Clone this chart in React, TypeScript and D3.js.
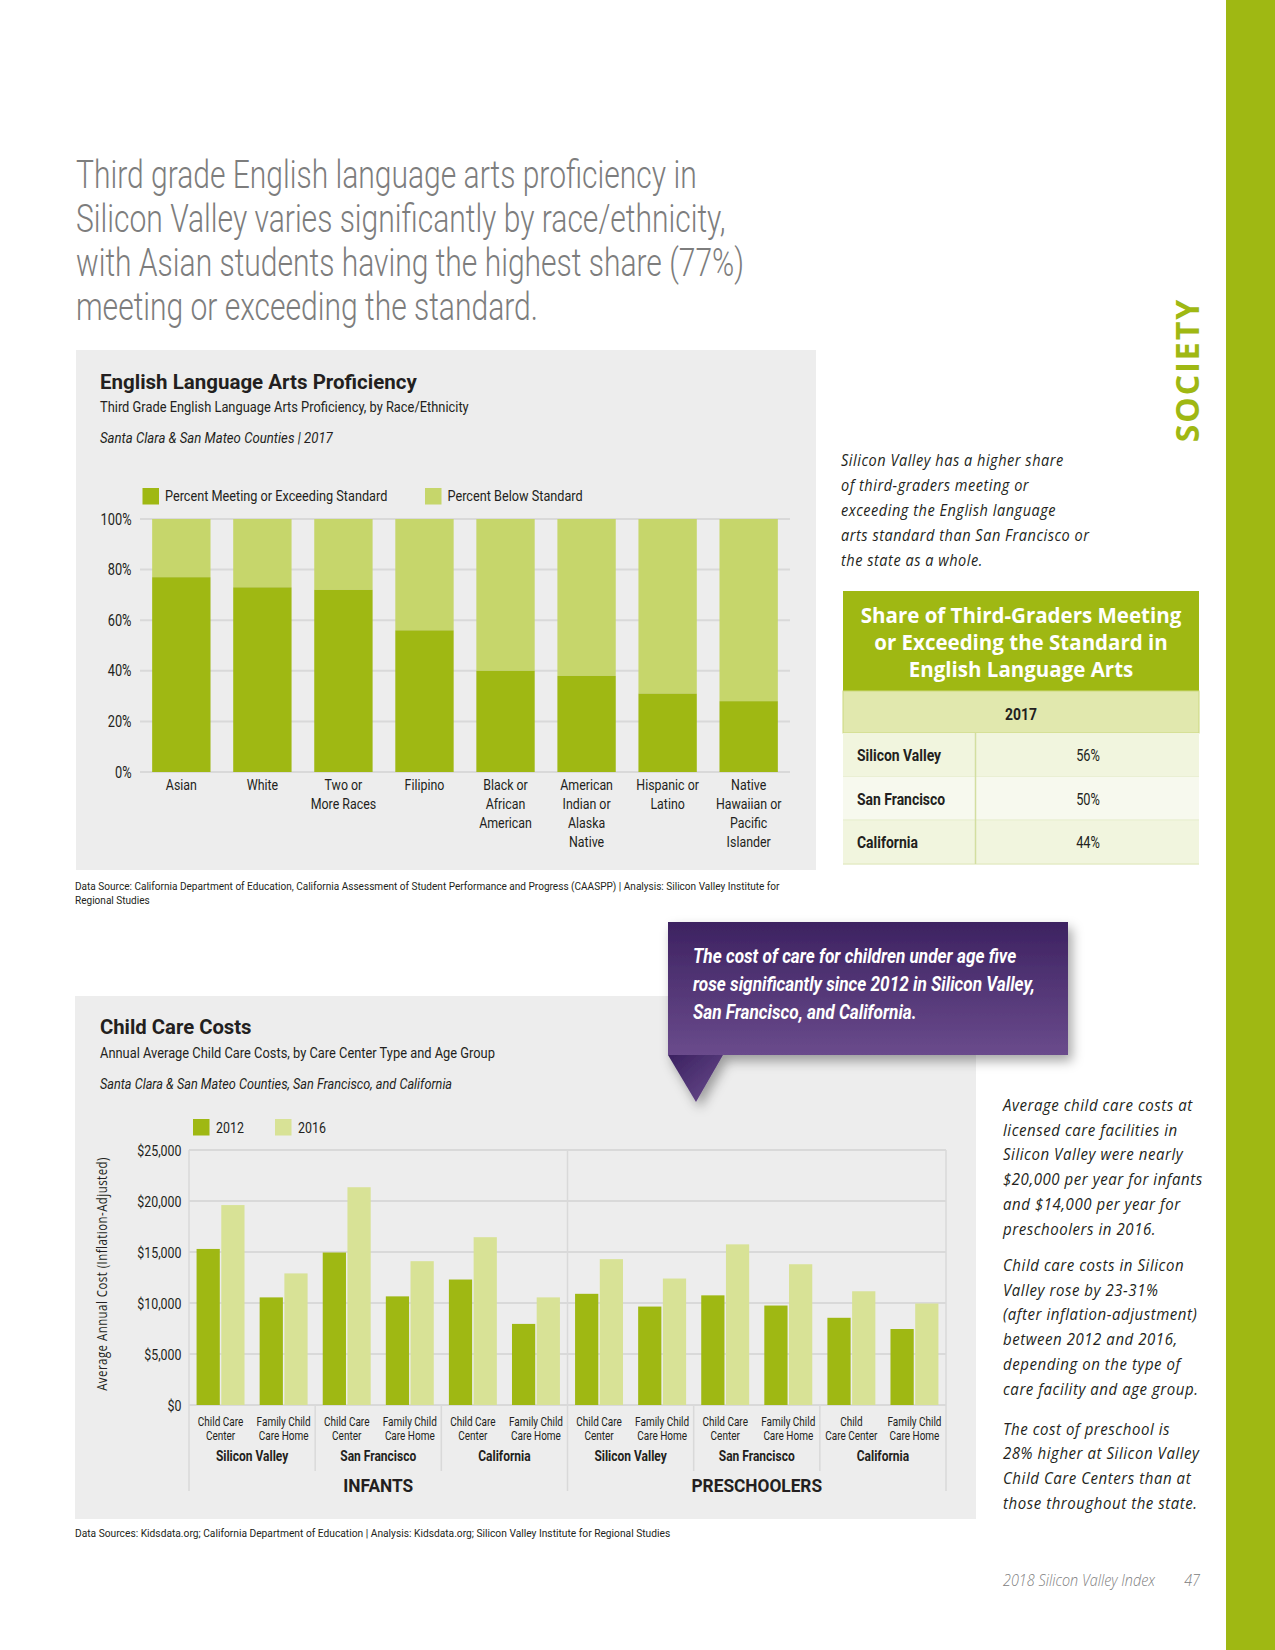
import React, { useRef, useEffect } from 'react'
import * as d3 from 'd3'

// page
const W = 1275
const H = 1650

const headlineLines = [
  'Third grade English language arts proficiency in',
  'Silicon Valley varies significantly by race/ethnicity,',
  'with Asian students having the highest share (77%)',
  'meeting or exceeding the standard.'
]

// chart 1: ELA proficiency
const elaCategories = [
  'Asian',
  'White',
  'Two or\nMore Races',
  'Filipino',
  'Black or\nAfrican\nAmerican',
  'American\nIndian or\nAlaska\nNative',
  'Hispanic or\nLatino',
  'Native\nHawaiian or\nPacific\nIslander'
]
const elaMeeting = [77, 73, 72, 56, 40, 38, 31, 28]
const elaTicks = [0, 20, 40, 60, 80, 100]
const elaLegend = ['Percent Meeting or Exceeding Standard', 'Percent Below Standard']

// sidebar table
const tableRegions = ['Silicon Valley', 'San Francisco', 'California']
const tableValues = [56, 50, 44]
const tableYear = '2017'

// chart 2: child care costs
const careAgeGroups = ['INFANTS', 'PRESCHOOLERS']
const careRegions = ['Silicon Valley', 'San Francisco', 'California']
const careBarLabels = [
  'Child Care\nCenter', 'Family Child\nCare Home',
  'Child Care\nCenter', 'Family Child\nCare Home',
  'Child Care\nCenter', 'Family Child\nCare Home',
  'Child Care\nCenter', 'Family Child\nCare Home',
  'Child Care\nCenter', 'Family Child\nCare Home',
  'Child\nCare Center', 'Family Child\nCare Home'
]
const careYears = ['2012', '2016']
const care2012 = [15300, 10550, 14950, 10650, 12300, 7950, 10900, 9650, 10750, 9750, 8550, 7450]
const care2016 = [19600, 12900, 21350, 14100, 16450, 10550, 14300, 12400, 15750, 13800, 11150, 9950]
const careTicks = [0, 5000, 10000, 15000, 20000, 25000]

const sidebarTop = [
  'Silicon Valley has a higher share',
  'of third-graders meeting or',
  'exceeding the English language',
  'arts standard than San Francisco or',
  'the state as a whole.'
]
const sidebarBottom = [
  ['Average child care costs at', 'licensed care facilities in', 'Silicon Valley were nearly', '$20,000 per year for infants', 'and $14,000 per year for', 'preschoolers in 2016.'],
  ['Child care costs in Silicon', 'Valley rose by 23-31%', '(after inflation-adjustment)', 'between 2012 and 2016,', 'depending on the type of', 'care facility and age group.'],
  ['The cost of preschool is', '28% higher at Silicon Valley', 'Child Care Centers than at', 'those throughout the state.']
]
const calloutLines = [
  'The cost of care for children under age five',
  'rose significantly since 2012 in Silicon Valley,',
  'San Francisco, and California.'
]

const GREEN = '#9fb813'
const LIGHT = '#c6d66b'
const PALE = '#d8e296'
const PANEL = '#ededed'
const GRID = '#d9d9d9'
const INK = '#231f20'
const COND_FONT = 'Roboto, "Open Sans", sans-serif'
const HUMAN_FONT = '"Open Sans", "Noto Sans", sans-serif'
const COND = 0.8

interface TextStyle {
  size: number
  weight?: number
  italic?: boolean
  anchor?: 'start' | 'middle' | 'end'
  fill?: string
  sx?: number
  family?: string
  spacing?: number
  rotate?: number
  lineHeight?: number
}

function drawText(parent: any, x: number, y: number, str: string, s: TextStyle) {
  const rot = s.rotate ? ` rotate(${s.rotate})` : ''
  const g = parent.append('g').attr('transform', `translate(${x},${y})${rot} scale(${s.sx ?? 1},1)`)
  str.split('\n').forEach((line, i) => {
    g.append('text')
      .attr('x', 0)
      .attr('y', i * (s.lineHeight ?? s.size * 1.2))
      .attr('text-anchor', s.anchor ?? 'start')
      .attr('fill', s.fill ?? INK)
      .style('font-family', s.family ?? COND_FONT)
      .style('font-size', `${s.size}px`)
      .style('font-weight', s.weight ?? 400)
      .style('font-style', s.italic ? 'italic' : 'normal')
      .style('letter-spacing', s.spacing ? `${s.spacing}px` : null)
      .text(line)
  })
  return g
}

export default function App() {
  const svgRef = useRef<SVGSVGElement>(null)

  useEffect(() => {
    if (!svgRef.current) return
    const svg = d3.select(svgRef.current)
    svg.selectAll('*').remove()

    const defs = svg.append('defs')
    const grad = defs.append('linearGradient').attr('id', 'callout-grad').attr('x1', 0).attr('y1', 0).attr('x2', 0).attr('y2', 1)
    grad.append('stop').attr('offset', '0%').attr('stop-color', '#3d2261')
    grad.append('stop').attr('offset', '100%').attr('stop-color', '#6a4b8c')
    const tri = defs.append('linearGradient').attr('id', 'tri-grad').attr('x1', 0).attr('y1', 0).attr('x2', 1).attr('y2', 1)
    tri.append('stop').attr('offset', '0%').attr('stop-color', '#3a2160')
    tri.append('stop').attr('offset', '100%').attr('stop-color', '#6a4b8c')
    const shadow = defs.append('filter').attr('id', 'shadow').attr('x', '-20%').attr('y', '-20%').attr('width', '150%').attr('height', '160%')
    shadow.append('feDropShadow').attr('dx', 4).attr('dy', 6).attr('stdDeviation', 6).attr('flood-color', '#000').attr('flood-opacity', 0.35)

    svg.append('rect').attr('width', W).attr('height', H).attr('fill', '#fff')

    // side band + section label
    svg.append('rect').attr('x', 1226).attr('y', 0).attr('width', W - 1226).attr('height', H).attr('fill', GREEN)
    drawText(svg, 1199, 370, 'SOCIETY', { size: 32, weight: 700, anchor: 'middle', fill: GREEN, family: HUMAN_FONT, rotate: -90, spacing: 2 })

    // headline
    headlineLines.forEach((line, i) => {
      drawText(svg, 76, 188 + i * 44, line, { size: 38, weight: 300, fill: '#7d7d7d', sx: 0.79 })
    })

    // ---------- chart 1 ----------
    const ela = svg.append('g')
    ela.append('rect').attr('x', 76).attr('y', 350).attr('width', 740).attr('height', 520).attr('fill', PANEL)
    drawText(ela, 100, 389, 'English Language Arts Proficiency', { size: 20.5, weight: 700, sx: 1 })
    drawText(ela, 100, 412, 'Third Grade English Language Arts Proficiency, by Race/Ethnicity', { size: 15.5, sx: 0.83 })
    drawText(ela, 100, 443, 'Santa Clara & San Mateo Counties  |  2017', { size: 15.5, italic: true, sx: 0.85 })

    const legendX = [142.5, 425]
    elaLegend.forEach((label, i) => {
      ela.append('rect').attr('x', legendX[i]).attr('y', 488).attr('width', 16.5).attr('height', 16.5).attr('fill', i === 0 ? GREEN : LIGHT)
      drawText(ela, legendX[i] + 22.5, 501, label, { size: 15.5, sx: 0.82 })
    })

    const x1 = d3.scaleBand<string>().domain(elaCategories).range([140, 790]).paddingInner(0.28).paddingOuter(0.15)
    const y1 = d3.scaleLinear().domain([0, 100]).range([772, 519])

    ela.append('g')
      .selectAll('line')
      .data(elaTicks)
      .enter()
      .append('line')
      .attr('x1', 140)
      .attr('x2', 790)
      .attr('y1', d => y1(d))
      .attr('y2', d => y1(d))
      .attr('stroke', GRID)
      .attr('stroke-width', 2)

    elaTicks.forEach(t => {
      drawText(ela, 131.5, y1(t) + 5.5, `${t}%`, { size: 16, anchor: 'end', sx: COND })
    })

    elaCategories.forEach((cat, i) => {
      const x = x1(cat)!
      const v = elaMeeting[i]
      ela.append('rect').attr('x', x).attr('width', x1.bandwidth()).attr('y', y1(100)).attr('height', y1(v) - y1(100)).attr('fill', LIGHT)
      ela.append('rect').attr('x', x).attr('width', x1.bandwidth()).attr('y', y1(v)).attr('height', y1(0) - y1(v)).attr('fill', GREEN)
      drawText(ela, x + x1.bandwidth() / 2, 790, cat, { size: 15.5, anchor: 'middle', sx: COND, lineHeight: 19 })
    })

    drawText(svg, 75, 890, 'Data Source: California Department of Education, California Assessment of Student Performance and Progress (CAASPP)  |  Analysis: Silicon Valley Institute for', { size: 11.5, sx: 0.875 })
    drawText(svg, 75, 904, 'Regional Studies', { size: 11.5, sx: 0.875 })

    // ---------- sidebar top ----------
    sidebarTop.forEach((line, i) => {
      drawText(svg, 841, 466 + i * 25, line, { size: 16.5, italic: true, family: HUMAN_FONT, sx: 0.88, spacing: 0.6 })
    })

    const tb = svg.append('g')
    tb.append('rect').attr('x', 843).attr('y', 591).attr('width', 356).attr('height', 100).attr('fill', GREEN)
    ;['Share of Third-Graders Meeting', 'or Exceeding the Standard in', 'English Language Arts'].forEach((line, i) => {
      drawText(tb, 1021, 623 + i * 26.8, line, { size: 20.5, weight: 700, anchor: 'middle', fill: '#fff', family: HUMAN_FONT })
    })
    tb.append('rect').attr('x', 843).attr('y', 691).attr('width', 356).attr('height', 42).attr('fill', '#e1e8ae').attr('stroke', '#cbd87f').attr('stroke-width', 1)
    drawText(tb, 1021, 720, tableYear, { size: 17, weight: 700, anchor: 'middle', sx: 0.82 })
    const rowY = d3.scaleBand<string>().domain(tableRegions).range([733, 864])
    tableRegions.forEach((r, i) => {
      const y = rowY(r)!
      tb.append('rect').attr('x', 843).attr('y', y).attr('width', 356).attr('height', rowY.bandwidth()).attr('fill', i % 2 === 0 ? '#f1f5de' : '#f7f9ee')
      tb.append('line').attr('x1', 843).attr('x2', 1199).attr('y1', y + rowY.bandwidth()).attr('y2', y + rowY.bandwidth()).attr('stroke', '#e4ebc6').attr('stroke-width', 1.5)
      drawText(tb, 857, y + rowY.bandwidth() / 2 + 6, r, { size: 17, weight: 700, sx: 0.82 })
      drawText(tb, 1088, y + rowY.bandwidth() / 2 + 6, `${tableValues[i]}%`, { size: 16, anchor: 'middle', sx: COND })
    })
    tb.append('line').attr('x1', 975.5).attr('x2', 975.5).attr('y1', 733).attr('y2', 864).attr('stroke', '#d3dea0').attr('stroke-width', 1.5)

    // ---------- chart 2 ----------
    const cc = svg.append('g')
    cc.append('rect').attr('x', 75).attr('y', 996).attr('width', 901).attr('height', 523).attr('fill', PANEL)
    drawText(cc, 100, 1034, 'Child Care Costs', { size: 20.5, weight: 700, sx: 0.99 })
    drawText(cc, 100, 1058, 'Annual Average Child Care Costs, by Care Center Type and Age Group', { size: 15.5, sx: 0.83 })
    drawText(cc, 100, 1088.5, 'Santa Clara & San Mateo Counties, San Francisco, and California', { size: 15.5, italic: true, sx: 0.82 })

    const legend2X = [193, 275]
    careYears.forEach((yr, i) => {
      cc.append('rect').attr('x', legend2X[i]).attr('y', 1119).attr('width', 16.5).attr('height', 16.5).attr('fill', i === 0 ? GREEN : PALE)
      drawText(cc, legend2X[i] + 23, 1133, yr, { size: 15.5, sx: COND })
    })

    const left = 189
    const right = 946
    const x2 = d3.scaleBand<number>().domain(d3.range(care2012.length)).range([left, right]).paddingInner(0.24).paddingOuter(0.12)
    const xYear = d3.scaleBand<string>().domain(careYears).range([0, x2.bandwidth()]).paddingInner(0.06)
    const y2 = d3.scaleLinear().domain([0, 25000]).range([1405, 1150])

    cc.append('g')
      .selectAll('line')
      .data(careTicks)
      .enter()
      .append('line')
      .attr('x1', left)
      .attr('x2', right)
      .attr('y1', d => y2(d))
      .attr('y2', d => y2(d))
      .attr('stroke', GRID)
      .attr('stroke-width', 2)

    careTicks.forEach(t => {
      drawText(cc, 181.5, y2(t) + 5.5, d3.format('$,')(t), { size: 15.5, anchor: 'end', sx: COND })
    })
    drawText(cc, 107, 1274, 'Average Annual Cost (Inflation-Adjusted)', { size: 14.5, anchor: 'middle', rotate: -90, family: HUMAN_FONT, sx: 0.79, spacing: 0.6 })

    // full-height dividers: plot edges and age-group boundary
    const step = x2.step()
    const nPerAge = care2012.length / careAgeGroups.length
    ;[0, nPerAge, care2012.length].forEach(k => {
      const x = left + k * step
      cc.append('line').attr('x1', x).attr('x2', x).attr('y1', y2(25000)).attr('y2', 1491).attr('stroke', GRID).attr('stroke-width', 1.5)
    })
    // region dividers below the axis
    d3.range(2, care2012.length, 2).filter(k => k % nPerAge !== 0).forEach(k => {
      const x = left + k * step
      cc.append('line').attr('x1', x).attr('x2', x).attr('y1', y2(0)).attr('y2', 1471).attr('stroke', GRID).attr('stroke-width', 1.5)
    })

    care2012.forEach((v12, i) => {
      const x = x2(i)!
      const vals = [v12, care2016[i]]
      careYears.forEach((yr, j) => {
        cc.append('rect')
          .attr('x', x + xYear(yr)!)
          .attr('width', xYear.bandwidth())
          .attr('y', y2(vals[j]))
          .attr('height', y2(0) - y2(vals[j]))
          .attr('fill', j === 0 ? GREEN : PALE)
      })
      drawText(cc, x + x2.bandwidth() / 2, 1426, careBarLabels[i], { size: 12.5, anchor: 'middle', sx: COND, lineHeight: 14.5 })
    })

    careAgeGroups.forEach((age, a) => {
      careRegions.forEach((reg, r) => {
        const cx = left + (a * nPerAge + r * 2 + 1) * step
        drawText(cc, cx, 1461, reg, { size: 15, weight: 700, anchor: 'middle', sx: COND })
      })
      const cx = left + (a * nPerAge + nPerAge / 2) * step
      drawText(cc, cx, 1492, age, { size: 18, weight: 700, anchor: 'middle', sx: 0.96 })
    })

    drawText(svg, 75, 1537, 'Data Sources: Kidsdata.org; California Department of Education  |  Analysis: Kidsdata.org; Silicon Valley Institute for Regional Studies', { size: 11.5, sx: 0.89 })

    // ---------- callout ----------
    const co = svg.append('g').attr('filter', 'url(#shadow)')
    co.append('rect').attr('x', 668).attr('y', 922).attr('width', 400).attr('height', 133).attr('fill', 'url(#callout-grad)')
    co.append('path').attr('d', 'M668,1055 L723,1055 L696,1102 Z').attr('fill', 'url(#tri-grad)')
    calloutLines.forEach((line, i) => {
      drawText(svg, 693, 963 + i * 28.2, line, { size: 21, weight: 700, italic: true, fill: '#fff', sx: 0.82 })
    })

    // ---------- sidebar bottom ----------
    const paraTop = [1111, 1271, 1434.5]
    sidebarBottom.forEach((para, p) => {
      para.forEach((line, i) => {
        drawText(svg, 1003, paraTop[p] + i * 24.7, line, { size: 16.5, italic: true, family: HUMAN_FONT, sx: 0.91, spacing: 0.6 })
      })
    })

    // page footer
    drawText(svg, 1003, 1586, '2018 Silicon Valley Index', { size: 16, weight: 300, italic: true, fill: '#808080', family: HUMAN_FONT, sx: 0.9 })
    drawText(svg, 1200, 1586, '47', { size: 16, weight: 300, italic: true, fill: '#808080', family: HUMAN_FONT, anchor: 'end', sx: 0.9 })
  }, [])

  return (
    <svg
      ref={svgRef}
      width={W}
      height={H}
      style={{ position: 'absolute', left: 0, top: 0, display: 'block' }}
    />
  )
}
